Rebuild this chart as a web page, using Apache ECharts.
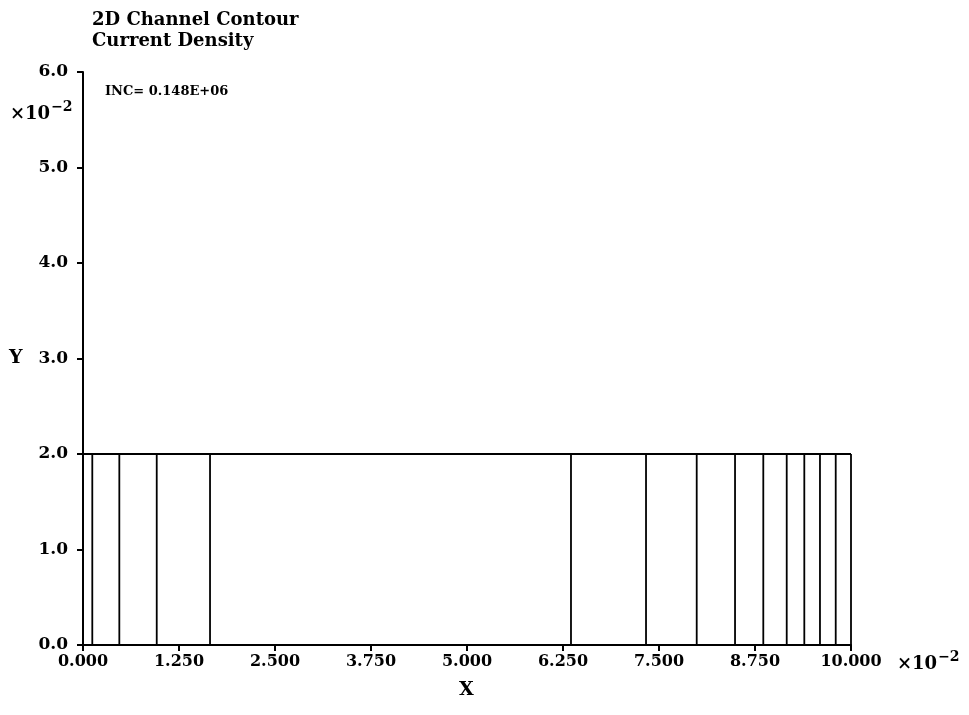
<!DOCTYPE html>
<html>
<head>
<meta charset="utf-8">
<script src="https://cdn.jsdelivr.net/npm/echarts@6/dist/echarts.min.js"></script>
<style>
html,body{margin:0;padding:0;background:#fff;}
#chart{width:969px;height:715px;}
</style>
</head>
<body>
<div id="chart"></div>
<script>
// Data (units of 1e-2)
const titleLines = ['2D Channel Contour', 'Current Density'];
const incLabel = 'INC= 0.148E+06';
const xTicks = [0, 1.25, 2.5, 3.75, 5.0, 6.25, 7.5, 8.75, 10.0];
const yTicks = [0, 1, 2, 3, 4, 5, 6];
const channelTop = 2.0;
const channelXMin = 0.0;
const channelXMax = 10.0;
// x positions of contour lines (vertical lines spanning the channel)
const contourX = [0.121, 0.473, 0.96, 1.654, 6.354, 7.331, 7.991, 8.49, 8.858, 9.163, 9.392, 9.596, 9.801, 10.0];

const FONT = 'DejaVu Serif';
const chart = echarts.init(document.getElementById('chart'));

const series = [];
series.push({
  type: 'line', data: [[channelXMin, channelTop], [channelXMax, channelTop]],
  symbol: 'none', lineStyle: {color: '#000', width: 2}, silent: true, animation: false
});
contourX.forEach(x => {
  series.push({
    type: 'line', data: [[x, 0], [x, channelTop]],
    symbol: 'none', lineStyle: {color: '#000', width: 1.8}, silent: true, animation: false
  });
});

const labelStyle = {color: '#000', fontFamily: FONT, fontWeight: 'bold', fontSize: 16};
const sciRich = {
  b: {fontFamily: FONT, fontWeight: 'bold', fontSize: 18, fill: '#000', verticalAlign: 'bottom'},
  s: {fontFamily: FONT, fontWeight: 'bold', fontSize: 14, fill: '#000', verticalAlign: 'top', padding: [0,0,9,1]}
};

chart.setOption({
  backgroundColor: '#fff',
  animation: false,
  grid: {left: 83, right: 118, top: 72, bottom: 70},
  xAxis: {
    type: 'value', min: 0, max: 10, interval: 1.25,
    axisLine: {show: true, lineStyle: {color: '#000', width: 2}},
    axisTick: {show: true, length: 6, lineStyle: {color: '#000', width: 2}},
    axisLabel: Object.assign({margin: 9, formatter: v => v.toFixed(3)}, labelStyle),
    splitLine: {show: false}
  },
  yAxis: {
    type: 'value', min: 0, max: 6, interval: 1,
    axisLine: {show: true, lineStyle: {color: '#000', width: 2}},
    axisTick: {show: true, length: 6, lineStyle: {color: '#000', width: 2}},
    axisLabel: Object.assign({margin: 15, formatter: v => v.toFixed(1)}, labelStyle, {fontSize: 17}),
    splitLine: {show: false}
  },
  graphic: [
    {type: 'text', left: 92, top: 10, style: {text: titleLines.join('\n'), fill: '#000', font: 'bold 18px "DejaVu Serif"', lineHeight: 21}},
    {type: 'text', left: 105, top: 85, style: {text: incLabel, fill: '#000', font: 'bold 13px "DejaVu Serif"'}},
    {type: 'text', left: 10, top: 100, style: {text: '{b|×10}{s|−2}', rich: sciRich}},
    {type: 'text', left: 897, top: 650, style: {text: '{b|×10}{s|−2}', rich: sciRich}},
    {type: 'text', left: 9, top: 349, style: {text: 'Y', fill: '#000', font: 'bold 19px "DejaVu Serif"'}},
    {type: 'text', left: 459, top: 681, style: {text: 'X', fill: '#000', font: 'bold 19px "DejaVu Serif"'}}
  ],
  series: series
});
</script>
</body>
</html>
